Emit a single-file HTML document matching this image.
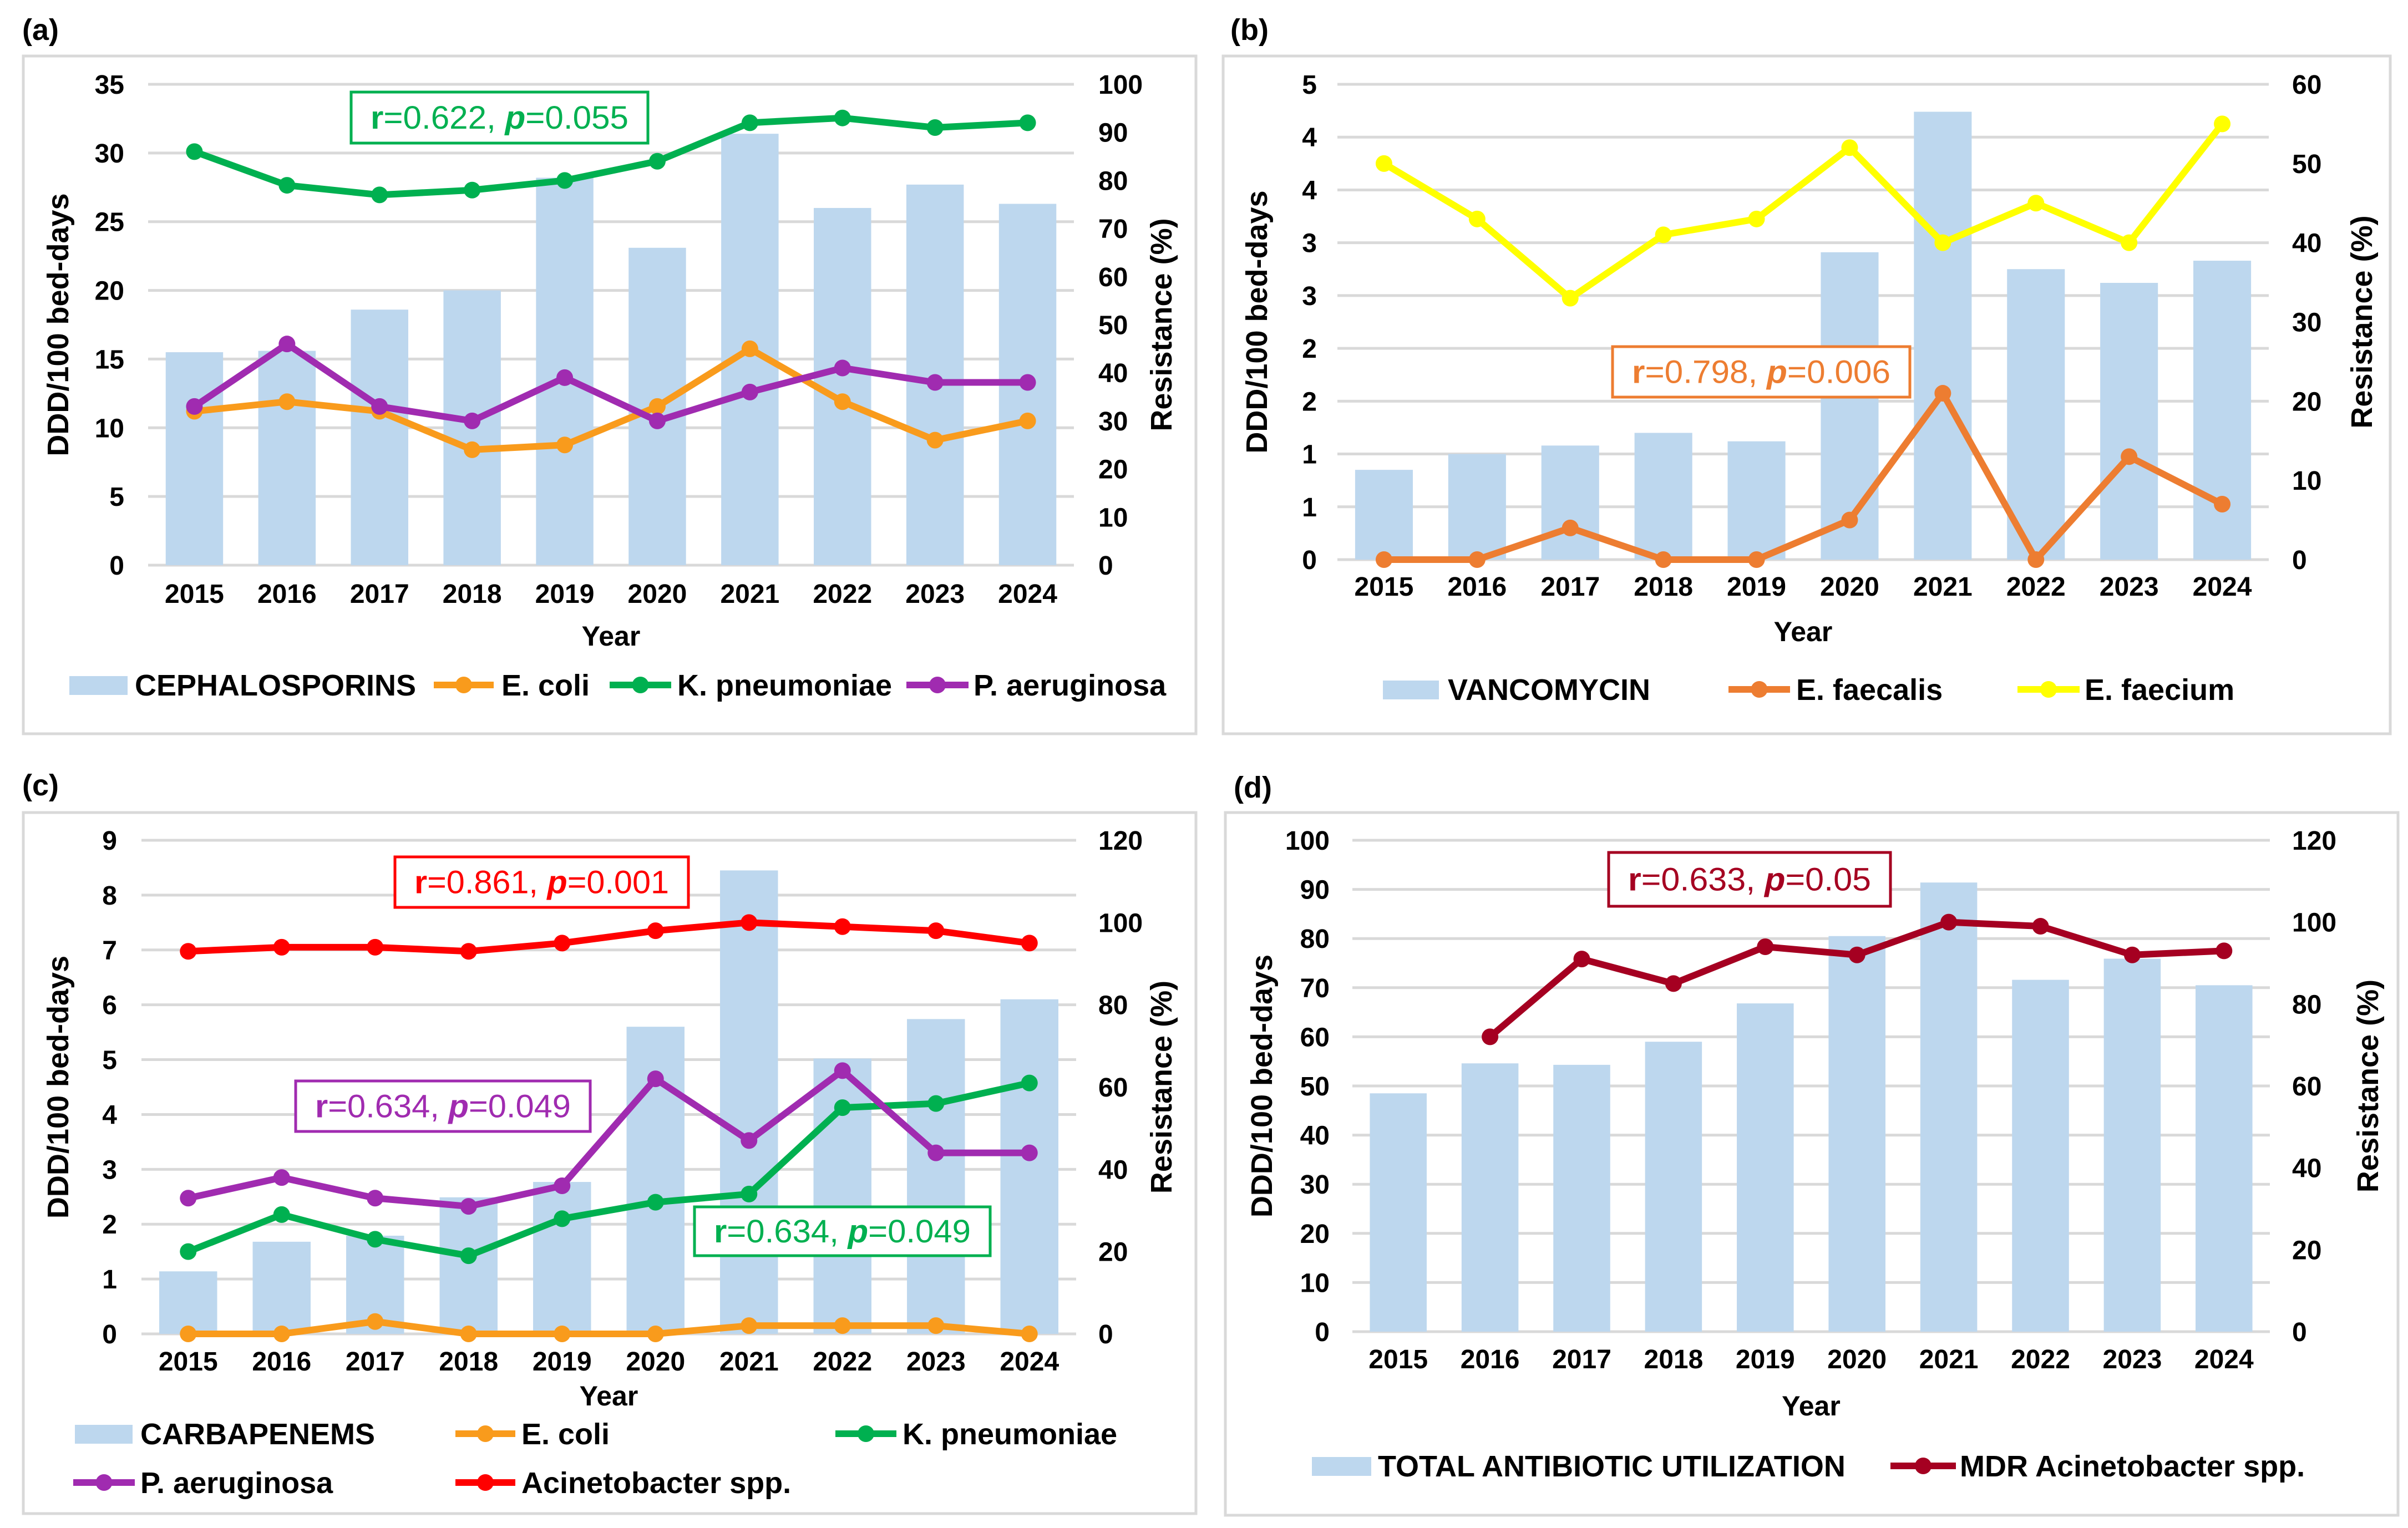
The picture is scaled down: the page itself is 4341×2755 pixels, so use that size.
<!DOCTYPE html>
<html><head><meta charset="utf-8"><title>Antibiotic use vs resistance</title>
<style>
html,body{margin:0;padding:0;background:#fff;}
svg{display:block;font-family:"Liberation Sans",Arial,sans-serif;}
</style></head>
<body>
<svg id="fig" xmlns="http://www.w3.org/2000/svg" width="4341" height="2755" viewBox="0 0 4341 2755">
<rect x="0" y="0" width="4341" height="2755" fill="#fff"/>
</svg>
<script>
// ---------- DATA ----------
const years = ["2015","2016","2017","2018","2019","2020","2021","2022","2023","2024"];
// Panel (a)
const cephalosporins = [15.5,15.6,18.6,20.0,28.2,23.1,31.4,26.0,27.7,26.3];
const aEcoli = [32,34,32,24,25,33,45,34,26,30];
const aKpneu = [86,79,77,78,80,84,92,93,91,92];
const aPaer = [33,46,33,30,39,30,36,41,38,38];
const aLeftTicks = ["0","5","10","15","20","25","30","35"];
const aRightTicks = ["0","10","20","30","40","50","60","70","80","90","100"];
// Panel (b)
const vancomycin = [0.85,1.0,1.08,1.2,1.12,2.91,4.24,2.75,2.62,2.83];
const bFaecalis = [0,0,4,0,0,5,21,0,13,7];
const bFaecium = [50,43,33,41,43,52,40,45,40,55];
const bLeftTicks = ["0","1","1","2","2","3","3","4","4","5"];
const bRightTicks = ["0","10","20","30","40","50","60"];
// Panel (c)
const carbapenems = [1.14,1.68,1.79,2.49,2.77,5.6,8.45,5.02,5.74,6.1];
const cEcoli = [0,0,3,0,0,0,2,2,2,0];
const cKpneu = [20,29,23,19,28,32,34,55,56,61];
const cPaer = [33,38,33,31,36,62,47,64,44,44];
const cAcin = [93,94,94,93,95,98,100,99,98,95];
const cLeftTicks = ["0","1","2","3","4","5","6","7","8","9"];
const cRightTicks = ["0","20","40","60","80","100","120"];
// Panel (d)
const totalUse = [48.5,54.6,54.3,59.0,66.8,80.5,91.4,71.6,75.9,70.5];
const dMdrAcin = [null,72,91,85,94,92,100,99,92,93];
const dLeftTicks = ["0","10","20","30","40","50","60","70","80","90","100"];
const dRightTicks = ["0","20","40","60","80","100","120"];

// ---------- DRAWING ----------
const NS = "http://www.w3.org/2000/svg";
const svg = document.getElementById("fig");
function mk(tag, attrs, parent){
  const e = document.createElementNS(NS, tag);
  for (const k in attrs) e.setAttribute(k, attrs[k]);
  (parent || svg).appendChild(e);
  return e;
}
const BAR = "#BDD7EE", GRID = "#D9D9D9";

function annotation(g, a){
  const r = mk("rect", {x:a.x, y:a.y, width:a.w, height:a.h, fill:"#fff", stroke:a.color, "stroke-width":5}, g);
  
  
  const t = mk("text", {x:a.x + a.w/2, y:a.y + a.h/2 + 20, "text-anchor":"middle", "font-size":58, fill:a.color, textLength:a.w - 70, lengthAdjust:"spacingAndGlyphs"}, g);
  
  
  const s1 = mk("tspan", {"font-weight":"bold"}, t); s1.textContent = "r";
  const s2 = mk("tspan", {}, t); s2.textContent = "=" + a.r + ", ";
  const s3 = mk("tspan", {"font-weight":"bold","font-style":"italic"}, t); s3.textContent = "p";
  const s4 = mk("tspan", {}, t); s4.textContent = "=" + a.p;
}

function drawPanel(c){
  const g = mk("g", {});
  
  
  const frame = mk("rect", {x:c.box[0], y:c.box[1], width:c.box[2]-c.box[0], height:c.box[3]-c.box[1], fill:"#fff", stroke:GRID, "stroke-width":5}, g);
  
  
  const lab = mk("text", {x:c.letter[0], y:c.letter[1], "font-size":54, "font-weight":"bold", fill:"#000"}, g);
  
  
  lab.textContent = c.letterText;

  const L = c.left, R = c.right, T = c.top, B = c.bottom;
  const step = (R - L) / c.cats.length;
  const xOf = i => L + step * (i + 0.5);
  const yL = v => B - (v - c.lmin) / (c.lmax - c.lmin) * (B - T);
  const yR = v => B - v / c.rmax * (B - T);

  c.lticks.forEach((lbl, i) => {
    const v = c.lmin + i * c.lstep;
    const y = yL(v);
    const gl = mk("line", {x1:L, x2:R, y1:y, y2:y, stroke:GRID, "stroke-width":5}, g);
    
    
    const t = mk("text", {x:c.lLabelX, y:y + 17, "text-anchor":"end", "font-size":48, "font-weight":"bold"}, g);
    
    
    t.textContent = lbl;
  });
  c.rticks.forEach((lbl, i) => {
    const y = yR(i * c.rstep);
    const t = mk("text", {x:c.rLabelX, y:y + 17, "text-anchor":"start", "font-size":48, "font-weight":"bold"}, g);
    
    
    t.textContent = lbl;
  });
  c.bars.forEach((v, i) => {
    const y = yL(v);
    const b = mk("rect", {x:xOf(i) - step*0.31, y:y, width:step*0.62, height:B - y, fill:BAR}, g);
    
    
  });
  c.cats.forEach((lbl, i) => {
    const t = mk("text", {x:xOf(i), y:c.tickY + 17, "text-anchor":"middle", "font-size":48, "font-weight":"bold"}, g);
    
    
    t.textContent = lbl;
  });
  const xt = mk("text", {x:(L+R)/2, y:c.yearY + 18, "text-anchor":"middle", "font-size":50, "font-weight":"bold"}, g);
  
  
  xt.textContent = "Year";
  const yt = mk("text", {x:0, y:0, "text-anchor":"middle", "font-size":54, "font-weight":"bold", transform:`translate(${c.yTitleX + 19},${(T+B)/2}) rotate(-90)`}, g);
  
  
  yt.textContent = "DDD/100 bed-days";
  const rt = mk("text", {x:0, y:0, "text-anchor":"middle", "font-size":54, "font-weight":"bold", transform:`translate(${c.rTitleX + 19},${(T+B)/2}) rotate(-90)`}, g);
  
  
  rt.textContent = "Resistance (%)";

  c.annots.forEach(a => annotation(g, a));

  c.series.forEach(s => {
    const pts = [];
    s.values.forEach((v, i) => { if (v !== null) pts.push([xOf(i), yR(v)]); });
    const pl = mk("polyline", {points:pts.map(p => p.join(",")).join(" "), fill:"none", stroke:s.color, "stroke-width":12, "stroke-linejoin":"round"}, g);
    
    
    pts.forEach(p => {
      const m = mk("circle", {cx:p[0], cy:p[1], r:15, fill:s.color}, g);
      
      
    });
  });

  c.legend.forEach(it => {
    const lg = mk("g", {}, g);
    
    
    if (it.type === "bar") {
      mk("rect", {x:it.x1, y:it.y - 16, width:it.x2 - it.x1, height:34, fill:BAR}, lg);
    } else {
      mk("line", {x1:it.x1, x2:it.x2, y1:it.y, y2:it.y, stroke:it.color, "stroke-width":12}, lg);
      mk("circle", {cx:(it.x1 + it.x2)/2, cy:it.y, r:15, fill:it.color}, lg);
    }
    const t = mk("text", {x:it.tx, y:it.y + 19, "font-size":54, "font-weight":"bold"}, lg);
    t.textContent = it.label;
  });
}

drawPanel({name:"panel-a", letterText:"(a)", letter:[40,72], box:[42,101,2156,1323],
  left:267, right:1936, top:152, bottom:1019, cats:years,
  lmin:0, lmax:35, lstep:5, lticks:aLeftTicks, rmax:100, rstep:10, rticks:aRightTicks,
  lLabelX:224, rLabelX:1980, yTitleX:104, rTitleX:2093, tickY:1070, yearY:1146,
  bars:cephalosporins,
  series:[{name:"e-coli", color:"#F99B1C", values:aEcoli},{name:"k-pneumoniae", color:"#00B050", values:aKpneu},{name:"p-aeruginosa", color:"#A02BB0", values:aPaer}],
  annots:[{name:"correlation-annotation", x:633, y:166, w:535, h:92, color:"#00B050", r:"0.622", p:"0.055"}],
  legend:[{type:"bar", x1:125, x2:230, y:1235, tx:243, label:"CEPHALOSPORINS"},
          {type:"line", x1:782, x2:890, y:1235, tx:904, label:"E. coli", color:"#F99B1C"},
          {type:"line", x1:1099, x2:1210, y:1235, tx:1221, label:"K. pneumoniae", color:"#00B050"},
          {type:"line", x1:1634, x2:1746, y:1235, tx:1755, label:"P. aeruginosa", color:"#A02BB0"}]
});
drawPanel({name:"panel-b", letterText:"(b)", letter:[2218,72], box:[2205,101,4309,1323],
  left:2411, right:4090, top:152, bottom:1009, cats:years,
  lmin:0, lmax:4.5, lstep:0.5, lticks:bLeftTicks, rmax:60, rstep:10, rticks:bRightTicks,
  lLabelX:2374, rLabelX:4132, yTitleX:2265, rTitleX:4257, tickY:1057, yearY:1138,
  bars:vancomycin,
  series:[{name:"e-faecalis", color:"#ED7D31", values:bFaecalis},{name:"e-faecium", color:"#FFFF00", values:bFaecium}],
  annots:[{name:"correlation-annotation", x:2907, y:625, w:536, h:91, color:"#ED7D31", r:"0.798", p:"0.006"}],
  legend:[{type:"bar", x1:2493, x2:2594, y:1243, tx:2610, label:"VANCOMYCIN"},
          {type:"line", x1:3116, x2:3227, y:1243, tx:3238, label:"E. faecalis", color:"#ED7D31"},
          {type:"line", x1:3637, x2:3749, y:1243, tx:3758, label:"E. faecium", color:"#FFFF00"}]
});
drawPanel({name:"panel-c", letterText:"(c)", letter:[40,1434], box:[42,1465,2156,2729],
  left:255, right:1940, top:1515, bottom:2405, cats:years,
  lmin:0, lmax:9, lstep:1, lticks:cLeftTicks, rmax:120, rstep:20, rticks:cRightTicks,
  lLabelX:211, rLabelX:1980, yTitleX:104, rTitleX:2093, tickY:2454, yearY:2516,
  bars:carbapenems,
  series:[{name:"e-coli", color:"#F99B1C", values:cEcoli},{name:"k-pneumoniae", color:"#00B050", values:cKpneu},{name:"p-aeruginosa", color:"#A02BB0", values:cPaer},{name:"acinetobacter", color:"#FF0000", values:cAcin}],
  annots:[{name:"acinetobacter-correlation", x:712, y:1545, w:529, h:91, color:"#FF0000", r:"0.861", p:"0.001"},
          {name:"p-aeruginosa-correlation", x:533, y:1949, w:531, h:91, color:"#A02BB0", r:"0.634", p:"0.049"},
          {name:"k-pneumoniae-correlation", x:1252, y:2176, w:533, h:88, color:"#00B050", r:"0.634", p:"0.049"}],
  legend:[{type:"bar", x1:135, x2:239, y:2585, tx:253, label:"CARBAPENEMS"},
          {type:"line", x1:821, x2:929, y:2585, tx:940, label:"E. coli", color:"#F99B1C"},
          {type:"line", x1:1506, x2:1616, y:2585, tx:1627, label:"K. pneumoniae", color:"#00B050"},
          {type:"line", x1:132, x2:243, y:2673, tx:253, label:"P. aeruginosa", color:"#A02BB0"},
          {type:"line", x1:821, x2:929, y:2673, tx:940, label:"Acinetobacter spp.", color:"#FF0000"}]
});
drawPanel({name:"panel-d", letterText:"(d)", letter:[2224,1438], box:[2209,1465,4323,2732],
  left:2438, right:4092, top:1515, bottom:2401, cats:years,
  lmin:0, lmax:100, lstep:10, lticks:dLeftTicks, rmax:120, rstep:20, rticks:dRightTicks,
  lLabelX:2397, rLabelX:4132, yTitleX:2274, rTitleX:4268, tickY:2450, yearY:2534,
  bars:totalUse,
  series:[{name:"mdr-acinetobacter", color:"#A50021", values:dMdrAcin}],
  annots:[{name:"correlation-annotation", x:2900, y:1537, w:508, h:97, color:"#A50021", r:"0.633", p:"0.05"}],
  legend:[{type:"bar", x1:2365, x2:2472, y:2643, tx:2484, label:"TOTAL ANTIBIOTIC UTILIZATION"},
          {type:"line", x1:3408, x2:3526, y:2643, tx:3533, label:"MDR Acinetobacter spp.", color:"#A50021"}]
});
</script>
</body></html>
